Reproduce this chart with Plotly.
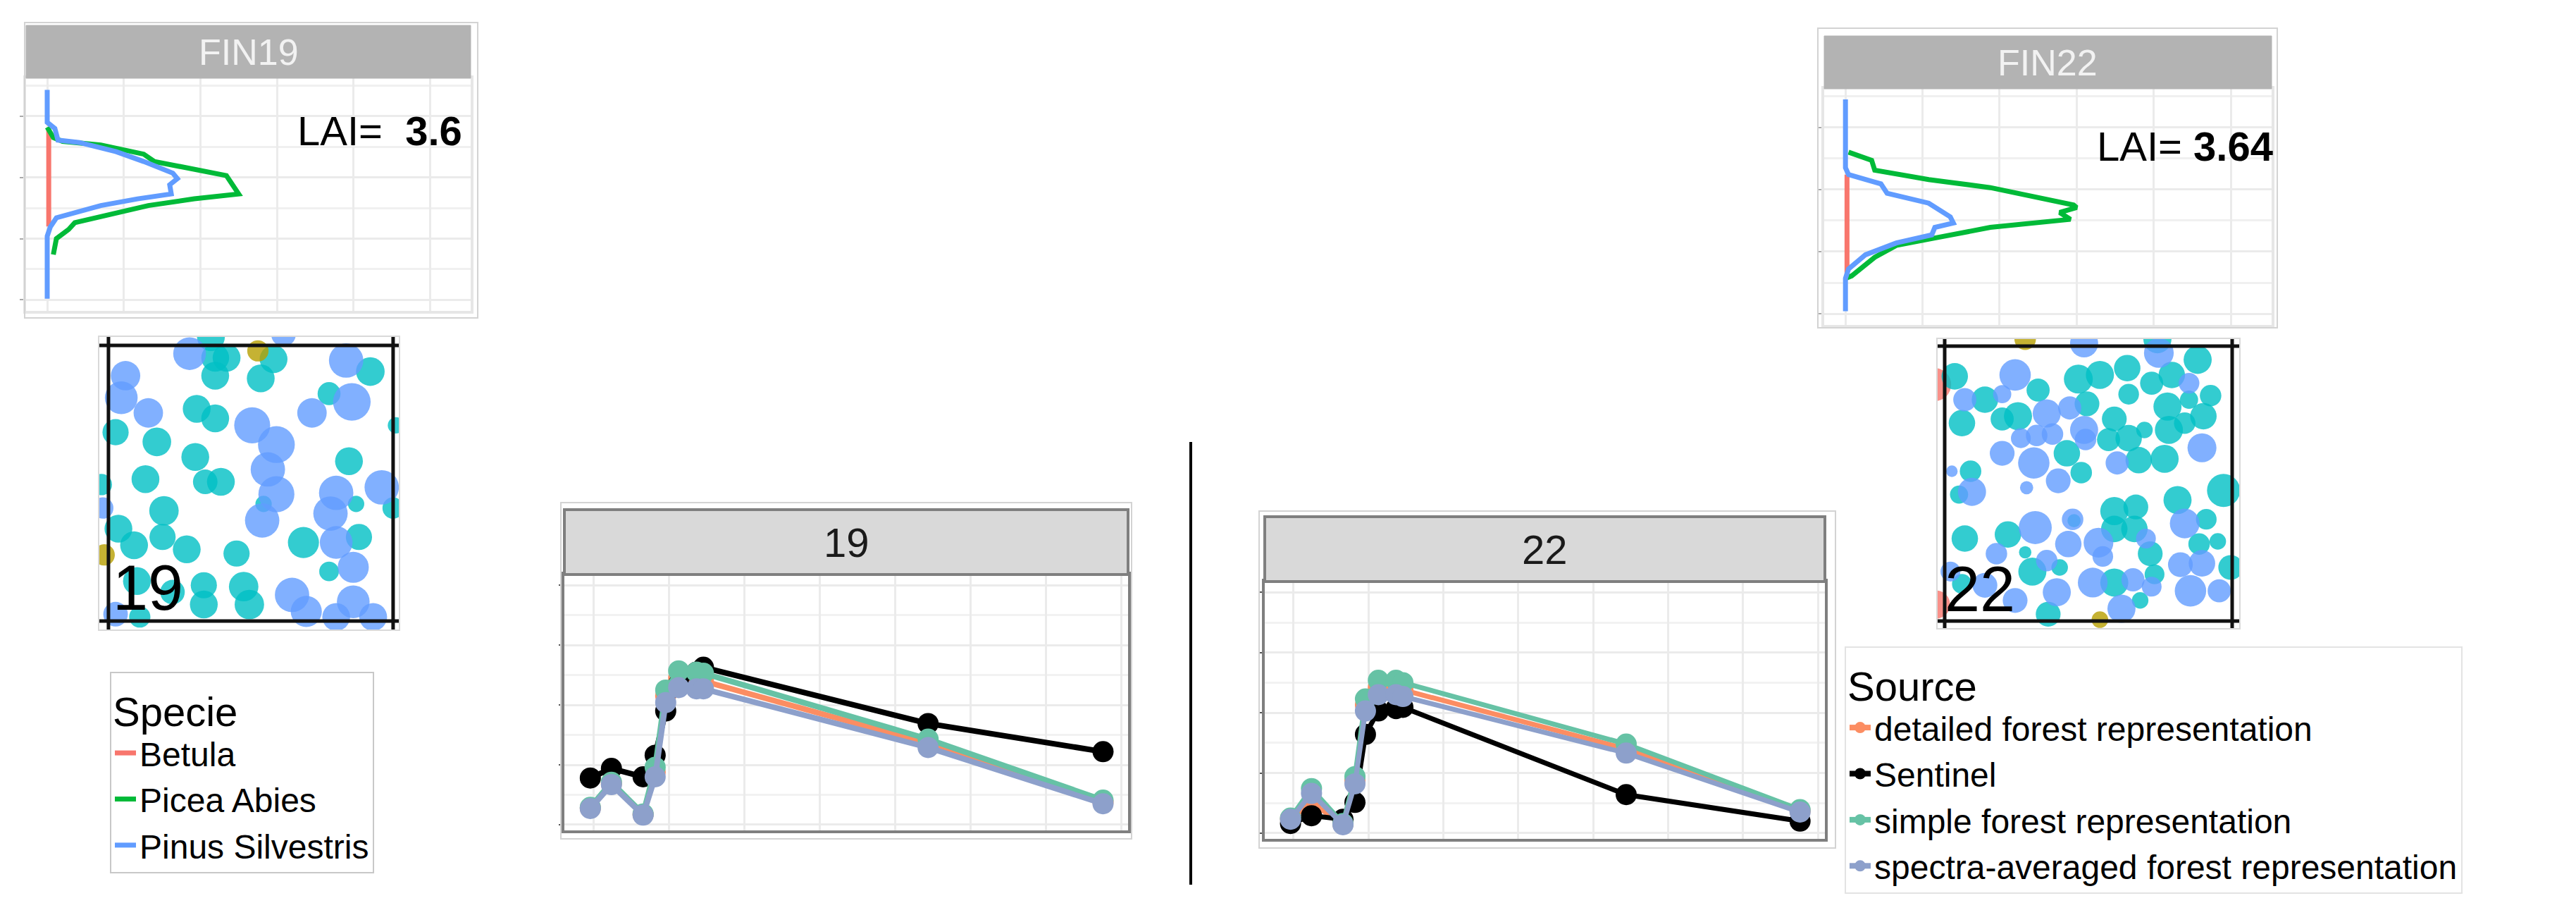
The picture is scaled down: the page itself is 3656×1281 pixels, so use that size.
import plotly.graph_objects as go

W, H = 3656, 1281

# ---- vertical profiles (density of leaf area vs height in m) ----
species = ["Betula", "Picea Abies", "Pinus Silvestris"]
species_colors = ["#F8766D", "#00BA38", "#619CFF"]

fin19_betula_h = [28.0, 12.0]
fin19_betula_d = [0.001, 0.001]
fin19_picea_h = [28.2, 26.5, 25.9, 25.3, 23.8, 22.6, 20.3, 18.0, 17.3, 16.5, 15.4, 12.6, 11.5, 10.0, 7.4]
fin19_picea_d = [0.0, 0.004, 0.010, 0.035, 0.063, 0.070, 0.117, 0.123, 0.125, 0.096, 0.066, 0.018, 0.014, 0.006, 0.004]
fin19_pinus_h = [34.3, 29.0, 28.0, 26.1, 25.7, 24.2, 22.6, 20.7, 19.8, 18.8, 17.3, 16.5, 15.4, 13.4, 11.9, 10.4, 0.2]
fin19_pinus_d = [0.0, 0.0, 0.005, 0.007, 0.021, 0.045, 0.063, 0.082, 0.085, 0.080, 0.081, 0.059, 0.035, 0.006, 0.002, 0.0, 0.0]

fin22_betula_h = [22.4, 6.1]
fin22_betula_d = [0.001, 0.001]
fin22_picea_h = [26.0, 24.7, 23.1, 21.6, 20.3, 17.5, 17.1, 16.3, 15.2, 13.9, 12.2, 11.0, 9.1, 6.1, 5.7]
fin22_picea_d = [0.002, 0.017, 0.019, 0.054, 0.094, 0.148, 0.150, 0.139, 0.146, 0.094, 0.058, 0.033, 0.019, 0.004, 0.0]
fin22_pinus_h = [34.5, 23.5, 22.4, 20.9, 19.4, 17.8, 15.6, 14.6, 13.9, 12.7, 11.4, 9.5, 7.2, 5.7, 0.4]
fin22_pinus_d = [0.0, 0.0, 0.002, 0.023, 0.027, 0.054, 0.068, 0.070, 0.058, 0.056, 0.033, 0.013, 0.002, 0.0, 0.0]

lai = [3.6, 3.64]
plot_ids = ["19", "22"]

# ---- stem maps: (x m, y m, crown diameter m) ----
map_colors = {"cyan": "#00BFC4", "blue": "#619CFF", "olive": "#B79F00", "red": "#F8766D"}

stems19_blue = [(5.7, 19.4, 2.0), (12.3, 20.8, 1.5), (16.7, 18.9, 2.1), (1.2, 17.8, 1.8), (0.9, 16.2, 2.0),
                (17.1, 15.9, 2.3), (2.8, 15.1, 1.8), (10.1, 14.2, 2.2), (14.3, 15.1, 1.8), (11.8, 12.8, 2.25),
                (11.2, 11.0, 2.1), (11.8, 9.2, 2.2), (16.0, 9.3, 2.1), (19.2, 9.7, 2.1), (10.8, 7.3, 2.1),
                (15.6, 7.8, 2.1), (16.0, 5.7, 2.0), (17.2, 3.9, 1.9), (12.9, 1.9, 2.1), (13.9, 0.7, 1.9),
                (17.2, 1.4, 2.0), (16.0, 0.3, 1.7), (18.6, 0.3, 1.7), (0.5, 0.5, 1.5), (-0.4, 8.2, 1.3)]
stems19_cyan = [(7.5, 19.1, 1.7), (8.3, 19.1, 1.7), (7.5, 17.8, 1.7), (11.6, 19.0, 1.7), (10.7, 17.6, 1.7),
                (7.2, 20.6, 1.7), (18.4, 18.1, 1.75), (15.5, 16.5, 1.4), (6.2, 15.4, 1.7), (7.5, 14.7, 1.7),
                (0.5, 13.7, 1.6), (3.4, 13.0, 1.75), (6.1, 11.9, 1.7), (16.9, 11.6, 1.7), (2.6, 10.3, 1.7),
                (6.8, 10.1, 1.5), (7.9, 10.1, 1.7), (17.4, 8.5, 1.0), (10.9, 8.5, 1.0), (3.9, 8.0, 1.8),
                (0.7, 6.7, 1.7), (1.8, 5.5, 1.7), (3.8, 6.1, 1.6), (5.5, 5.2, 1.7), (9.0, 4.9, 1.6),
                (13.7, 5.7, 1.9), (17.6, 6.1, 1.6), (15.5, 3.6, 1.2), (6.7, 2.6, 1.6), (9.5, 2.5, 1.8),
                (6.7, 1.2, 1.7), (9.9, 1.2, 1.8), (2.0, 2.9, 1.7), (4.5, 2.1, 1.5), (2.2, 0.3, 1.3),
                (-0.5, 9.9, 1.3), (20.2, 14.2, 1.0), (20.0, 8.2, 1.3)]
stems19_olive = [(10.5, 19.6, 1.3), (-0.3, 4.8, 1.3)]

stems22_blue = [(4.9, 17.9, 1.9), (1.4, 16.1, 1.4), (4.0, 16.5, 1.1), (14.9, 19.5, 1.8), (17.0, 17.3, 1.25),
                (7.1, 15.1, 1.7), (8.7, 15.5, 1.4), (5.3, 13.3, 1.2), (6.4, 13.5, 1.3), (7.5, 13.6, 1.3),
                (9.7, 13.9, 1.7), (9.8, 13.2, 1.3), (17.9, 12.6, 1.75), (4.0, 12.2, 1.5), (6.2, 11.5, 1.9),
                (12.0, 11.5, 1.4), (0.5, 10.9, 0.7), (1.9, 9.4, 1.7), (7.9, 10.2, 1.5), (5.7, 9.7, 0.8),
                (8.9, 7.4, 1.3), (6.3, 6.8, 2.0), (8.6, 5.6, 1.6), (10.7, 5.7, 1.8), (14.0, 6.0, 1.2),
                (16.7, 7.1, 1.8), (3.6, 4.9, 1.3), (11.0, 4.7, 1.25), (7.1, 4.4, 1.3), (16.4, 4.1, 1.5),
                (17.9, 4.2, 1.6), (0.4, 3.6, 1.2), (2.8, 2.6, 1.5), (4.9, 1.5, 1.5), (7.8, 2.1, 1.7),
                (10.3, 2.8, 1.8), (13.1, 3.0, 1.4), (14.4, 2.5, 1.2), (12.3, 0.9, 1.7), (17.1, 2.2, 1.9),
                (19.1, 2.2, 1.4), (9.7, 20.2, 1.7)]
stems22_cyan = [(0.7, 17.8, 1.6), (2.8, 16.1, 1.6), (6.5, 16.8, 1.4), (9.3, 17.6, 1.75), (10.8, 17.9, 1.7),
                (12.7, 18.4, 1.6), (14.4, 17.3, 1.4), (15.8, 17.9, 1.6), (17.6, 19.0, 1.7), (18.5, 16.4, 1.3),
                (12.8, 16.5, 1.25), (17.0, 16.1, 1.1), (1.2, 14.4, 1.6), (4.0, 14.7, 1.4), (5.1, 14.9, 1.7),
                (9.9, 15.8, 1.5), (11.8, 14.7, 1.5), (11.4, 13.2, 1.4), (12.8, 13.3, 1.6), (13.9, 13.9, 1.0),
                (15.5, 15.6, 1.7), (15.6, 13.9, 1.7), (16.7, 14.4, 1.3), (18.0, 14.9, 1.6), (8.5, 12.2, 1.6),
                (13.5, 11.7, 1.6), (15.3, 11.8, 1.7), (1.8, 10.9, 1.3), (1.0, 9.2, 1.1), (9.5, 10.8, 1.3),
                (19.4, 9.5, 2.0), (16.2, 8.8, 1.7), (11.8, 8.0, 1.7), (13.3, 8.3, 1.5), (9.0, 7.3, 0.8),
                (4.4, 6.3, 1.6), (1.4, 6.0, 1.6), (11.8, 6.7, 1.6), (13.2, 6.7, 1.6), (14.3, 4.9, 1.5),
                (18.2, 7.4, 1.25), (17.7, 5.6, 1.3), (19.0, 5.8, 1.0), (5.6, 5.0, 0.75), (6.1, 3.6, 1.7),
                (8.0, 3.9, 1.0), (19.9, 3.9, 1.5), (1.2, 2.7, 1.2), (11.8, 2.8, 1.7), (14.6, 3.4, 1.2),
                (13.6, 1.5, 1.0), (7.2, 0.5, 1.5), (14.8, 20.5, 1.7)]
stems22_olive = [(10.8, 0.1, 1.0), (5.6, 20.5, 1.3)]
stems22_red = [(-0.7, 17.2, 2.0), (-0.6, 1.2, 1.7)]

# ---- reflectance at the sentinel-2 bands ----
bands = [490, 560, 665, 705, 740, 783, 842, 865, 1610, 2190]
sources = ["detailed forest representation", "Sentinel", "simple forest representation",
           "spectra-averaged forest representation"]
source_colors = ["#FC8D62", "#000000", "#66C2A5", "#8DA0CB"]

refl19_detailed = [0.028, 0.069, 0.017, 0.088, 0.215, 0.245, 0.243, 0.240, 0.136, 0.038]
refl19_sentinel = [0.078, 0.094, 0.080, 0.116, 0.190, 0.235, 0.255, 0.263, 0.169, 0.122]
refl19_simple = [0.029, 0.071, 0.018, 0.096, 0.225, 0.257, 0.255, 0.253, 0.143, 0.041]
refl19_spectra = [0.027, 0.067, 0.016, 0.080, 0.204, 0.229, 0.227, 0.227, 0.129, 0.035]

refl22_detailed = [0.024, 0.050, 0.015, 0.088, 0.213, 0.242, 0.242, 0.238, 0.140, 0.037]
refl22_sentinel = [0.016, 0.029, 0.023, 0.051, 0.164, 0.203, 0.207, 0.209, 0.064, 0.020]
refl22_simple = [0.025, 0.074, 0.016, 0.094, 0.223, 0.254, 0.254, 0.250, 0.148, 0.039]
refl22_spectra = [0.023, 0.066, 0.014, 0.082, 0.203, 0.230, 0.230, 0.227, 0.133, 0.035]

FONT = "Liberation Sans, Arial, sans-serif"


def fx(p):
    return p / W


def fy(p):
    return 1 - p / H


def dom_x(a, b):
    return [fx(a), fx(b)]


def dom_y(top, bottom):
    return [fy(bottom), fy(top)]


def box(x0, y0, x1, y1, line="#d3d3d3", width=2, fill="rgba(0,0,0,0)", layer="above"):
    return dict(type="rect", xref="paper", yref="paper", x0=fx(x0), x1=fx(x1), y0=fy(y1), y1=fy(y0),
                line=dict(color=line, width=width), fillcolor=fill, layer=layer)


fig = go.Figure()

# vertical profiles
profiles = [
    ("x", "y", [(fin19_betula_d, fin19_betula_h), (fin19_picea_d, fin19_picea_h), (fin19_pinus_d, fin19_pinus_h)], True),
    ("x2", "y2", [(fin22_betula_d, fin22_betula_h), (fin22_picea_d, fin22_picea_h), (fin22_pinus_d, fin22_pinus_h)], False),
]
for xa, ya, curves, show in profiles:
    for (d, h), name, col in zip(curves, species, species_colors):
        fig.add_trace(go.Scatter(x=d, y=h, mode="lines", name=name, line=dict(color=col, width=7),
                                 xaxis=xa, yaxis=ya, showlegend=show, legend="legend"))

# stem maps (marker diameter in px = crown diameter * px per metre)
maps = [
    ("x3", "y3", [("cyan", stems19_cyan), ("blue", stems19_blue), ("olive", stems19_olive)], 425 / 21.04),
    ("x4", "y4", [("red", stems22_red), ("cyan", stems22_cyan), ("blue", stems22_blue), ("olive", stems22_olive)], 428 / 20.98),
]
for xa, ya, groups, ppm in maps:
    for key, trees in groups:
        fig.add_trace(go.Scatter(x=[t[0] for t in trees], y=[t[1] for t in trees], mode="markers",
                                 marker=dict(color=map_colors[key], size=[t[2] * ppm * 1.15 for t in trees],
                                             opacity=0.8, line=dict(width=0)),
                                 xaxis=xa, yaxis=ya, showlegend=False, hoverinfo="skip"))

# reflectance
spectra = [
    ("x5", "y5", [refl19_detailed, refl19_sentinel, refl19_simple, refl19_spectra], True, 8),
    ("x6", "y6", [refl22_detailed, refl22_sentinel, refl22_simple, refl22_spectra], False, 7),
]
for xa, ya, series, show, lw in spectra:
    for vals, name, col in zip(series, sources, source_colors):
        fig.add_trace(go.Scatter(x=bands, y=vals, mode="lines+markers", name=name,
                                 line=dict(color=col, width=lw), marker=dict(color=col, size=30),
                                 xaxis=xa, yaxis=ya, showlegend=show, legend="legend2"))

grid = "#ebebeb"
prof_x = dict(range=[-0.0138, 0.2765], tick0=0, dtick=0.05, showgrid=True, gridcolor=grid, gridwidth=3,
              showticklabels=False, ticks="", zeroline=False, showline=True, mirror=True,
              linecolor="#e6e6e6", linewidth=4)
prof_y = dict(range=[-1.8, 36.2], tick0=0, dtick=10, showgrid=True, gridcolor=grid, gridwidth=3,
              minor=dict(dtick=5, showgrid=True, gridcolor="#f0f0f0", gridwidth=3, ticks=""),
              showticklabels=False, ticks="outside", ticklen=5, tickwidth=2, tickcolor="#aaaaaa",
              zeroline=False, showline=True, mirror=True, linecolor="#e6e6e6", linewidth=4)
map_ax = dict(showgrid=False, showticklabels=False, ticks="", zeroline=False,
              showline=True, mirror=True, linecolor="#d9d9d9", linewidth=2)
refl_x = dict(range=[404, 2273], tick0=500, dtick=250, showgrid=True, gridcolor=grid, gridwidth=3,
              showticklabels=False, ticks="", zeroline=False, showline=True, mirror=True,
              linecolor="#7f7f7f", linewidth=4)
refl_y = dict(range=[-0.0095, 0.418], tick0=0, dtick=0.1, showgrid=True, gridcolor=grid, gridwidth=3,
              minor=dict(dtick=0.05, showgrid=True, gridcolor="#f2f2f2", gridwidth=3, ticks=""),
              showticklabels=False, ticks="outside", ticklen=4, tickwidth=2, tickcolor="#555555",
              zeroline=False, showline=True, mirror=True, linecolor="#7f7f7f", linewidth=4)

fig.update_layout(
    xaxis=dict(prof_x, domain=dom_x(29, 660), anchor="y"),
    yaxis=dict(prof_y, domain=dom_y(103, 433), anchor="x"),
    xaxis2=dict(prof_x, domain=dom_x(2581, 3216), anchor="y2"),
    yaxis2=dict(prof_y, domain=dom_y(118, 453), anchor="x2"),
    xaxis3=dict(map_ax, domain=dom_x(133, 558), range=[-0.64, 20.40], anchor="y3"),
    yaxis3=dict(map_ax, domain=dom_y(470, 885), range=[-0.61, 20.61], anchor="x3"),
    xaxis4=dict(map_ax, domain=dom_x(2742, 3170), range=[-0.49, 20.49], anchor="y4"),
    yaxis4=dict(map_ax, domain=dom_y(473, 883), range=[-0.51, 20.51], anchor="x4"),
    xaxis5=dict(refl_x, domain=dom_x(793, 1593), anchor="y5"),
    yaxis5=dict(refl_y, domain=dom_y(807, 1170), anchor="x5"),
    xaxis6=dict(refl_x, domain=dom_x(1787, 2582), anchor="y6"),
    yaxis6=dict(refl_y, domain=dom_y(817, 1182), anchor="x6"),
)

shapes = [
    # outer image borders
    box(27, 24, 670, 443), box(2572, 32, 3224, 457),
    box(788, 705, 1598, 1182), box(1779, 717, 2597, 1195),
    # strips
    box(29, 28, 660, 103, line="#b3b3b3", width=1, fill="#b3b3b3"),
    box(2581, 43, 3216, 118, line="#b3b3b3", width=1, fill="#b3b3b3"),
    box(793, 715, 1593, 807, line="#7f7f7f", width=4, fill="#d9d9d9"),
    box(1787, 725, 2582, 817, line="#7f7f7f", width=4, fill="#d9d9d9"),
    # divider
    dict(type="line", xref="paper", yref="paper", x0=fx(1682), x1=fx(1682), y0=fy(619), y1=fy(1247),
         line=dict(color="black", width=4)),
]
# plot frame of the stem maps
for xa, ya in [("x3", "y3"), ("x4", "y4")]:
    for v in (0, 20):
        shapes.append(dict(type="line", xref=xa, yref=ya + " domain", x0=v, x1=v, y0=0, y1=1,
                           line=dict(color="#111111", width=5), layer="above"))
        shapes.append(dict(type="line", xref=xa + " domain", yref=ya, x0=0, x1=1, y0=v, y1=v,
                           line=dict(color="#111111", width=5), layer="above"))
fig.update_layout(shapes=shapes)

ann = [
    dict(text="FIN" + plot_ids[0], x=fx(345), y=fy(66), font=dict(size=52, color="#f2f2f2")),
    dict(text="FIN" + plot_ids[1], x=fx(2898), y=fy(81), font=dict(size=52, color="#f2f2f2")),
    dict(text=plot_ids[0], x=fx(1193), y=fy(761), font=dict(size=58, color="#1a1a1a")),
    dict(text=plot_ids[1], x=fx(2184), y=fy(771), font=dict(size=58, color="#1a1a1a")),
    dict(text="LAI=  <b>%s</b>" % lai[0], x=fx(412), y=fy(178), xanchor="left", font=dict(size=58, color="black")),
    dict(text="LAI= <b>%s</b>" % lai[1], x=fx(2966), y=fy(200), xanchor="left", font=dict(size=58, color="black")),
    dict(text=plot_ids[0], x=fx(150), y=fy(826), xanchor="left", font=dict(size=90, color="black")),
    dict(text=plot_ids[1], x=fx(2750), y=fy(828), xanchor="left", font=dict(size=90, color="black")),
]
for a in ann:
    a.setdefault("xanchor", "center")
    a.update(xref="paper", yref="paper", yanchor="middle", showarrow=False)
    a["font"]["family"] = FONT
fig.update_layout(annotations=ann)

fig.update_layout(
    width=W, height=H, margin=dict(l=0, r=0, t=0, b=0),
    paper_bgcolor="white", plot_bgcolor="white",
    font=dict(family=FONT, color="black"),
    legend=dict(x=fx(148), y=fy(945), xanchor="left", yanchor="top",
                bordercolor="#c8c8c8", borderwidth=2, bgcolor="white",
                title=dict(text="Specie", font=dict(size=58)), font=dict(size=48)),
    legend2=dict(x=fx(2610), y=fy(909), xanchor="left", yanchor="top",
                 bordercolor="#e3e3e3", borderwidth=2, bgcolor="white",
                 title=dict(text="Source", font=dict(size=58)), font=dict(size=48)),
)

fig.write_html("out.html")
